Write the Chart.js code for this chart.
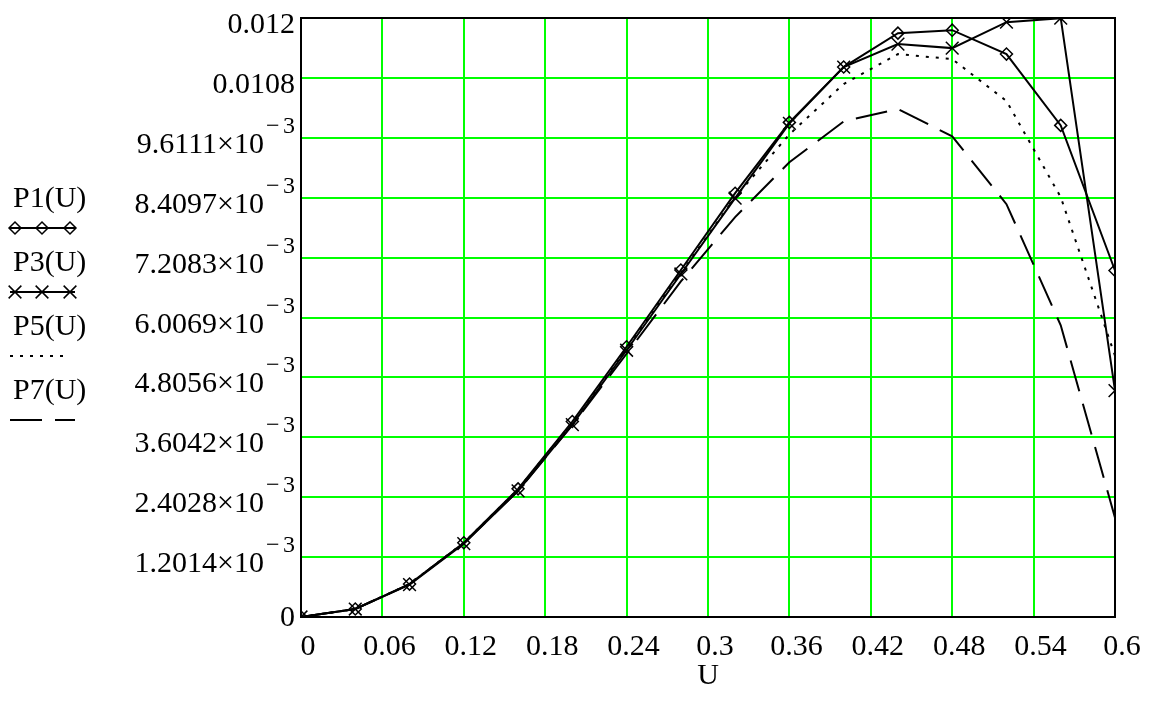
<!DOCTYPE html>
<html><head><meta charset="utf-8">
<script src="https://cdn.jsdelivr.net/npm/chart.js@4/dist/chart.umd.min.js"></script>
<style>html,body{margin:0;padding:0;background:#fff;}#wrap{width:1151px;height:716px;}</style>
</head><body><div id="wrap"><canvas id="c" width="1151" height="716"></canvas></div>
<script>
// ---- data ----
const U = [0, 0.04, 0.08, 0.12, 0.16, 0.20, 0.24, 0.28, 0.32, 0.36, 0.40, 0.44, 0.48, 0.52, 0.56, 0.60];
const P1 = [0, 1.6e-4, 6.6e-4, 1.49e-3, 2.57e-3, 3.92e-3, 5.42e-3, 6.96e-3, 8.50e-3, 9.92e-3, 1.103e-2, 1.171e-2, 1.177e-2, 1.129e-2, 9.86e-3, 6.95e-3];
const P3 = [0, 1.6e-4, 6.5e-4, 1.47e-3, 2.53e-3, 3.86e-3, 5.35e-3, 6.88e-3, 8.40e-3, 9.90e-3, 1.103e-2, 1.149e-2, 1.141e-2, 1.193e-2, 1.201e-2, 4.54e-3];
const P5 = [0, 1.6e-4, 6.6e-4, 1.49e-3, 2.56e-3, 3.90e-3, 5.38e-3, 6.90e-3, 8.42e-3, 9.68e-3, 1.069e-2, 1.129e-2, 1.119e-2, 1.035e-2, 8.42e-3, 5.24e-3];
const P7 = [0, 1.6e-4, 6.6e-4, 1.48e-3, 2.53e-3, 3.85e-3, 5.28e-3, 6.73e-3, 8.02e-3, 9.12e-3, 9.94e-3, 1.019e-2, 9.64e-3, 8.28e-3, 5.85e-3, 1.99e-3];
const seriesLabels = ['P1(U)', 'P3(U)', 'P5(U)', 'P7(U)'];

const xTickValues = [0, 0.06, 0.12, 0.18, 0.24, 0.30, 0.36, 0.42, 0.48, 0.54, 0.60];
const xTickLabels = ['0', '0.06', '0.12', '0.18', '0.24', '0.3', '0.36', '0.42', '0.48', '0.54', '0.6'];
const yTickValues = [0, 0.0012014, 0.0024028, 0.0036042, 0.0048056, 0.0060069, 0.0072083, 0.0084097, 0.0096111, 0.0108125, 0.0120139];
const yTickMantissas = ['0', '1.2014', '2.4028', '3.6042', '4.8056', '6.0069', '7.2083', '8.4097', '9.6111', '0.0108', '0.012'];
const yTickExponents = ['', '\u22123', '\u22123', '\u22123', '\u22123', '\u22123', '\u22123', '\u22123', '\u22123', '', ''];
const xTitle = 'U';

// ---- chart ----
const FONT = 'Liberation Serif, Times New Roman, serif';
function pts(arr) { return U.map((u, i) => ({ x: u, y: arr[i] })); }

const styles = [
  { borderDash: [], pointStyle: 'rectRot', pointRadius: 6 },
  { borderDash: [], pointStyle: 'crossRot', pointRadius: 9 },
  { borderDash: [3, 7], pointStyle: 'circle', pointRadius: 0 },
  { borderDash: [32, 13], pointStyle: 'circle', pointRadius: 0 }
];
const seriesData = [P1, P3, P5, P7];

const datasets = seriesData.map((d, i) => ({
  label: seriesLabels[i],
  data: pts(d),
  borderColor: '#000',
  borderWidth: 2,
  borderDash: styles[i].borderDash,
  pointStyle: styles[i].pointStyle,
  pointRadius: styles[i].pointRadius,
  pointHoverRadius: styles[i].pointRadius,
  pointBorderColor: '#000',
  pointBackgroundColor: 'rgba(0,0,0,0)',
  pointBorderWidth: 1.5,
  tension: 0,
  fill: false
}));

const framePlugin = {
  id: 'frame',
  beforeDatasetsDraw(chart) {
    const { ctx, chartArea: a } = chart;
    ctx.save();
    ctx.strokeStyle = '#000';
    ctx.lineWidth = 2;
    ctx.strokeRect(a.left, a.top, a.right - a.left, a.bottom - a.top);
    ctx.restore();
  }
};

const textPlugin = {
  id: 'axisText',
  afterDraw(chart) {
    const { ctx, chartArea: a } = chart;
    const ys = chart.scales.y;
    ctx.save();
    ctx.fillStyle = '#000';
    ctx.textBaseline = 'alphabetic';
    yTickValues.forEach((v, i) => {
      const py = ys.getPixelForValue(v);
      const base = i === 0 ? py + 9 : py + 15;
      ctx.font = '30px ' + FONT;
      if (yTickExponents[i]) {
        ctx.textAlign = 'right';
        ctx.fillText(yTickMantissas[i] + '\u00d710', 264, base);
        ctx.font = '24px ' + FONT;
        ctx.textAlign = 'left';
        ctx.fillText(yTickExponents[i].charAt(0), 266, py - 5);
        ctx.textAlign = 'right';
        ctx.fillText(yTickExponents[i].slice(1), 295, py - 5);
      } else {
        ctx.textAlign = 'right';
        ctx.fillText(yTickMantissas[i], 295, base);
      }
    });
    // x-axis title
    ctx.font = '30px ' + FONT;
    ctx.textAlign = 'center';
    ctx.textBaseline = 'middle';
    ctx.fillText(xTitle, (a.left + a.right) / 2, a.bottom + 59);
    ctx.restore();
  }
};

function drawMarker(ctx, style, x, y, r) {
  ctx.beginPath();
  if (style === 'rectRot') {
    ctx.moveTo(x - r, y); ctx.lineTo(x, y - r); ctx.lineTo(x + r, y); ctx.lineTo(x, y + r); ctx.closePath();
  } else if (style === 'crossRot') {
    const o = r * Math.SQRT1_2;
    ctx.moveTo(x - o, y - o); ctx.lineTo(x + o, y + o);
    ctx.moveTo(x + o, y - o); ctx.lineTo(x - o, y + o);
  }
  ctx.stroke();
}

const legendPlugin = {
  id: 'sideLegend',
  afterDraw(chart) {
    const { ctx } = chart;
    ctx.save();
    chart.data.datasets.forEach((ds, i) => {
      const base = 207 + i * 64;
      ctx.fillStyle = '#000';
      ctx.font = '30px ' + FONT;
      ctx.textAlign = 'left';
      ctx.textBaseline = 'alphabetic';
      ctx.fillText(ds.label, 13, base);
      const ly = base + 21;
      ctx.strokeStyle = '#000';
      ctx.lineWidth = 2;
      ctx.setLineDash(ds.borderDash || []);
      ctx.beginPath();
      ctx.moveTo(10, ly);
      ctx.lineTo(i === 2 ? 70 : 75, ly);
      ctx.stroke();
      ctx.setLineDash([]);
      if (ds.pointRadius > 0) {
        ctx.lineWidth = 1.5;
        [15, 42, 70].forEach(x => drawMarker(ctx, ds.pointStyle, x, ly, ds.pointRadius));
      }
    });
    ctx.restore();
  }
};

new Chart(document.getElementById('c'), {
  type: 'line',
  data: { datasets },
  options: {
    responsive: false,
    animation: false,
    devicePixelRatio: 1,
    layout: { padding: { left: 301, top: 18, right: 36, bottom: 39 } },
    plugins: { legend: { display: false }, tooltip: { enabled: false } },
    scales: {
      x: {
        type: 'linear', min: 0, max: 0.6,
        afterBuildTicks: s => { s.ticks = xTickValues.map(v => ({ value: v })); },
        ticks: {
          callback: (v, i) => xTickLabels[i],
          font: { family: FONT, size: 30, lineHeight: 1 },
          color: '#000', labelOffset: 7, padding: 15, maxRotation: 0, autoSkip: false
        },
        grid: { color: '#00ff00', lineWidth: 2, drawTicks: false },
        border: { display: false },
        title: { display: false }
      },
      y: {
        type: 'linear', min: 0, max: yTickValues[yTickValues.length - 1],
        afterBuildTicks: s => { s.ticks = yTickValues.map(v => ({ value: v })); },
        ticks: { display: false },
        grid: { color: '#00ff00', lineWidth: 2, drawTicks: false },
        border: { display: false }
      }
    }
  },
  plugins: [framePlugin, textPlugin, legendPlugin]
});
</script>
</body></html>
